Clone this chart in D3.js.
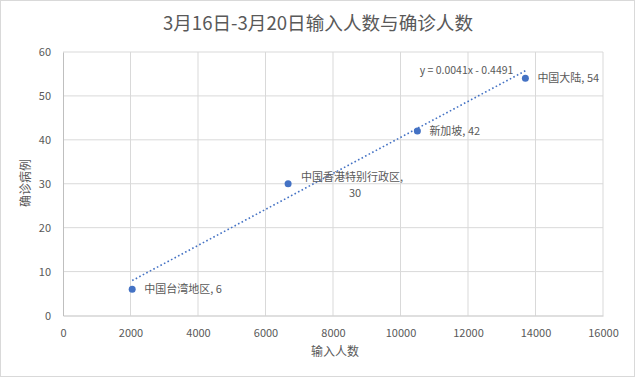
<!DOCTYPE html>
<html><head><meta charset="utf-8">
<script src="https://cdn.jsdelivr.net/npm/d3@7"></script>
<style>body{margin:0;background:#fff}svg{display:block}</style>
</head><body>
<svg id="c" width="635" height="377"></svg>
<script>
const regions = ["中国台湾地区", "中国香港特别行政区", "新加坡", "中国大陆"];
const imported = [2050, 6670, 10500, 13700];
const confirmed = [6, 30, 42, 54];
const xTicks = [0, 2000, 4000, 6000, 8000, 10000, 12000, 14000, 16000];
const yTicks = [0, 10, 20, 30, 40, 50, 60];
const trendSlope = 0.0041, trendIntercept = -0.4491;
const titleText = "3月16日-3月20日输入人数与确诊人数";
const xTitle = "输入人数", yTitle = "确诊病例";

const svg = d3.select("#c");
const W = 635, H = 377;
const font = "'Noto Sans CJK SC', 'Noto Sans', sans-serif";
const txt = "#595959", grid = "#d9d9d9", blue = "#4472c4";
svg.append("rect").attr("x",0.5).attr("y",0.5).attr("width",W-1).attr("height",H-1)
  .attr("fill","#fff").attr("stroke","#d9d9d9");

const x = d3.scaleLinear().domain([0,16000]).range([63,603]);
const y = d3.scaleLinear().domain([0,60]).range([315.5,52]);

// gridlines
svg.append("g").selectAll("line").data(yTicks.filter(d=>d>0)).join("line")
  .attr("x1",x(0)).attr("x2",x(16000)).attr("y1",d=>y(d)).attr("y2",d=>y(d))
  .attr("stroke",grid).attr("stroke-width",1);
svg.append("g").selectAll("line").data(xTicks.filter(d=>d>0)).join("line")
  .attr("x1",d=>x(d)).attr("x2",d=>x(d)).attr("y1",y(0)).attr("y2",y(60))
  .attr("stroke",grid).attr("stroke-width",1);

// axes
const xa = svg.append("g").attr("transform",`translate(0,${y(0)})`)
  .call(d3.axisBottom(x).tickValues(xTicks).tickSize(0).tickPadding(14).tickFormat(d3.format("d")));
const ya = svg.append("g").attr("transform",`translate(${x(0)},0)`)
  .call(d3.axisLeft(y).tickValues(yTicks).tickSize(0).tickPadding(12));
[xa,ya].forEach(a=>{
  a.select(".domain").attr("stroke","#bfbfbf");
  a.selectAll("text").attr("fill",txt).style("font-family",font).style("font-size","11px");
});

// trendline
const tx = d3.extent(imported);
svg.append("line")
  .attr("x1",x(tx[0])).attr("y1",y(trendSlope*tx[0]+trendIntercept))
  .attr("x2",x(tx[1])).attr("y2",y(trendSlope*tx[1]+trendIntercept))
  .attr("stroke",blue).attr("stroke-width",1.6).attr("stroke-dasharray","1.6,2.4");

// points
const data = regions.map((r,i)=>({r, x:imported[i], y:confirmed[i]}));
svg.append("g").selectAll("circle").data(data).join("circle")
  .attr("cx",d=>x(d.x)).attr("cy",d=>y(d.y)).attr("r",3.5).attr("fill",blue);

// labels
const lab = svg.append("g").style("font-family",font).style("font-size","11px").attr("fill",txt);
data.forEach((d,i)=>{
  const px = x(d.x), py = y(d.y);
  if (i===1) {
    lab.append("text").attr("x",px+13).attr("y",py-3).text(d.r+",");
    lab.append("text").attr("x",px+67).attr("y",py+13).attr("text-anchor","middle").text(d.y);
  } else {
    lab.append("text").attr("x",px+12).attr("y",py+4).text(d.r+", "+d.y);
  }
});
// equation
lab.append("text").attr("x",x(imported[3])-12).attr("y",y(confirmed[3])-4).attr("text-anchor","end")
  .style("font-size","10.5px").text(`y = ${trendSlope}x - ${Math.abs(trendIntercept)}`);

// titles
svg.append("text").attr("x",318).attr("y",30).attr("text-anchor","middle")
  .style("font-family",font).style("font-size","18.6px").attr("fill",txt).text(titleText);
svg.append("text").attr("x",335).attr("y",356).attr("text-anchor","middle")
  .style("font-family",font).style("font-size","12px").attr("fill",txt).text(xTitle);
svg.append("text").attr("transform","translate(30,183) rotate(-90)").attr("text-anchor","middle")
  .style("font-family",font).style("font-size","12px").attr("fill",txt).text(yTitle);
</script>
</body></html>
